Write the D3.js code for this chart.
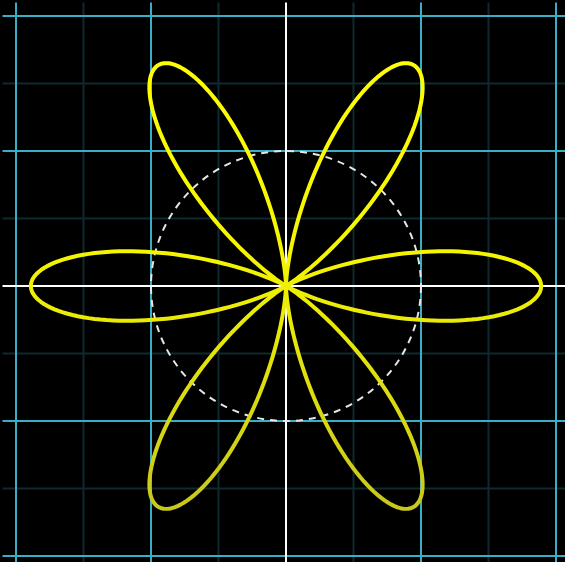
<!DOCTYPE html>
<html><head><meta charset="utf-8">
<script src="https://cdn.jsdelivr.net/npm/d3@7"></script>
<style>html,body{margin:0;padding:0;background:#000;}svg{display:block;}</style>
</head><body>
<svg id="c" width="565" height="562"></svg>
<script>
// Polar rose r = A * cos(k*theta)^p (6 narrow petals, tip ~1.89 units)
const roseAmplitude = [1.89];
const roseK = [3];
const rosePower = [2];
const sampleStepDeg = [0.5];
const sampleOffsetDeg = [0.25];
const unitCircleRadius = [1];
const majorTicks = [-2, -1, 1, 2];
const minorTicks = [-1.5, -0.5, 0.5, 1.5];
const axisExtent = [-2.1, 2.1];

const W = 565, H = 562, CX = 286, CY = 286, UNIT = 135;
const svg = d3.select('#c');
const x = d3.scaleLinear().domain([-CX / UNIT, (W - CX) / UNIT]).range([0, W]);
const y = d3.scaleLinear().domain([-(H - CY) / UNIT, CY / UNIT]).range([H, 0]);

svg.append('rect').attr('width', W).attr('height', H).attr('fill', '#000');

const g = svg.append('g');
function grid(ticks, color) {
  g.append('g').selectAll('line').data(ticks).join('line')
    .attr('x1', d => x(d)).attr('x2', d => x(d)).attr('y1', y(axisExtent[1])).attr('y2', y(axisExtent[0]))
    .attr('stroke', color).attr('stroke-width', 2);
  g.append('g').selectAll('line').data(ticks).join('line')
    .attr('y1', d => y(d)).attr('y2', d => y(d)).attr('x1', x(axisExtent[0])).attr('x2', x(axisExtent[1]))
    .attr('stroke', color).attr('stroke-width', 2);
}
grid(minorTicks, '#0e2a2e');
grid(majorTicks, '#3aaec4');
// axes
g.append('line').attr('x1', x(axisExtent[0])).attr('x2', x(axisExtent[1])).attr('y1', y(0)).attr('y2', y(0))
  .attr('stroke', '#fff').attr('stroke-width', 2);
g.append('line').attr('x1', x(0)).attr('x2', x(0)).attr('y1', y(axisExtent[1])).attr('y2', y(axisExtent[0]))
  .attr('stroke', '#fff').attr('stroke-width', 2);

// unit circle dashed
g.append('circle').attr('cx', x(0)).attr('cy', y(0))
  .attr('r', x(unitCircleRadius[0]) - x(0))
  .attr('fill', 'none').attr('stroke', '#e6e6e6').attr('stroke-width', 2)
  .attr('stroke-dasharray', '7,6');

// vertical colour gradient of the curve
const defs = svg.append('defs');
const grad = defs.append('linearGradient').attr('id', 'yg')
  .attr('gradientUnits', 'userSpaceOnUse')
  .attr('x1', 0).attr('x2', 0).attr('y1', y(1.7)).attr('y2', y(-1.7));
grad.append('stop').attr('offset', '0%').attr('stop-color', '#ffff00');
grad.append('stop').attr('offset', '45%').attr('stop-color', '#f4f400');
grad.append('stop').attr('offset', '100%').attr('stop-color', '#c6c61e');

const nSamples = Math.round(360 / sampleStepDeg[0]);
const pts = d3.range(nSamples).map(i => {
  const t = (sampleOffsetDeg[0] + i * sampleStepDeg[0]) * Math.PI / 180;
  const r = roseAmplitude[0] * Math.pow(Math.cos(roseK[0] * t), rosePower[0]);
  return [r * Math.cos(t), r * Math.sin(t)];
});
g.append('path').datum(pts)
  .attr('d', d3.line().x(d => x(d[0])).y(d => y(d[1])).curve(d3.curveLinearClosed))
  .attr('fill', 'none').attr('stroke', 'url(#yg)').attr('stroke-width', 4)
  .attr('stroke-linejoin', 'round');
</script>
</body></html>
